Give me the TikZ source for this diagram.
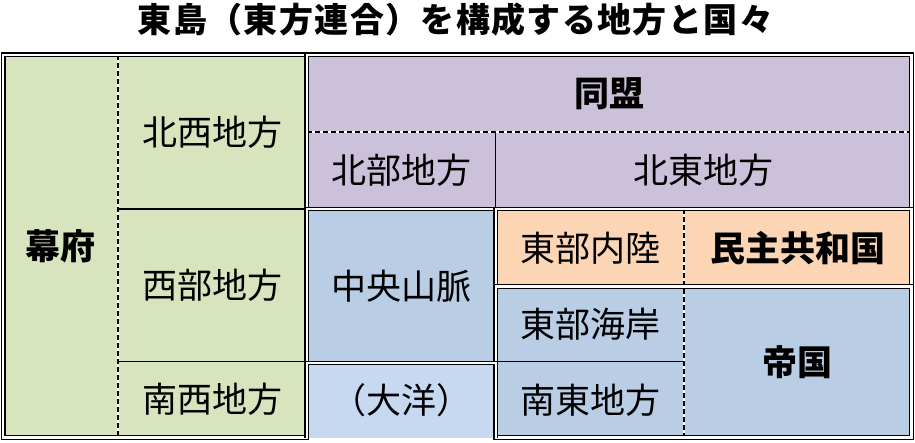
\documentclass[tikz,border=0pt]{standalone}
\usepackage{fontspec}
\newfontfamily\jp{Noto Sans CJK JP}
\definecolor{cgreen}{HTML}{D7E4BD}
\definecolor{cpurple}{HTML}{CCC1DA}
\definecolor{cblue}{HTML}{B9CDE5}
\definecolor{cocean}{HTML}{C6D9F1}
\definecolor{corange}{HTML}{FCD5B5}
\tikzset{
  frame/.style={draw=black, line width=1.3pt, double=white, double distance=2.2pt},
  divider/.style={draw=black, line width=1.3pt},
  dashbg/.style={draw=white, line width=1.3pt},
  dashfg/.style={draw=black, line width=1.3pt, dash pattern=on 5pt off 3pt},
  lbl/.style={anchor=base, inner sep=0pt, font=\jp\fontsize{35}{35}\selectfont},
  blbl/.style={anchor=base, inner sep=0pt, font=\jp\bfseries\fontsize{35}{35}\selectfont},
  ttl/.style={anchor=base, inner sep=0pt, font=\jp\bfseries\fontsize{34}{34}\selectfont\addfontfeatures{LetterSpace=4}},
}
\begin{document}
\begin{tikzpicture}[x=1pt, y=-1pt]
\useasboundingbox (0,0) rectangle (915,442);
% fills
\fill[cgreen] (3.3,54.8) rectangle (306.7,437.5);
\fill[cpurple] (306.7,54.8) rectangle (911.5,209);
\fill[cblue] (306.7,209) rectangle (495.8,363);
\fill[corange] (495.8,209) rectangle (911.5,286.5);
\fill[cblue] (495.8,286.5) rectangle (911.5,437.5);
\fill[cocean] (306.7,363) rectangle (495.8,438);
% interior solid dividers
\draw[divider] (118,209) -- (306.7,209);
\draw[divider] (118,361.8) -- (306.7,361.8);
\draw[divider] (495.8,132) -- (495.8,209);
\draw[divider] (495.8,361.5) -- (684,361.5);
% dashed dividers
\draw[dashbg] (118,54.8) -- (118,437.5);
\draw[dashfg] (118,54.8) -- (118,437.5);
\draw[dashbg] (306.7,132) -- (911.5,132);
\draw[dashfg] (306.7,132) -- (911.5,132);
\draw[dashbg] (684,209) -- (684,437.5);
\draw[dashfg] (684,209) -- (684,437.5);
% double frames
\draw[frame] (3.3,54.8) rectangle (306.7,437.5);
\draw[frame] (306.7,54.8) rectangle (911.5,209);
\draw[frame] (306.7,209) rectangle (495.8,363);
\draw[frame] (495.8,209) rectangle (911.5,286.5);
\draw[frame] (495.8,286.5) rectangle (911.5,437.5);
\draw[frame] (306.7,438) -- (306.7,363) -- (495.8,363) -- (495.8,438);
% texts
\node[ttl] (title) at (455.5,32.8) {東島（東方連合）を構成する地方と国々};
\node[blbl] (bakufu) at (60.6,259.3) {幕府};
\node[lbl] (hokusei) at (212.4,145.3) {北西地方};
\node[lbl] (seibu) at (212.4,298.8) {西部地方};
\node[lbl] (nansei) at (212.4,412.9) {南西地方};
\node[blbl] (doumei) at (609.1,106.7) {同盟};
\node[lbl] (hokubu) at (401.2,183.8) {北部地方};
\node[lbl] (hokutou) at (703.6,183.8) {北東地方};
\node[lbl] (chuou) at (401.2,299.3) {中央山脈};
\node[lbl] (taiyou) at (401.2,413.3) {（大洋）};
\node[lbl] (naiku) at (590,261.3) {東部内陸};
\node[blbl] (minshu) at (797.7,261.3) {民主共和国};
\node[lbl] (kaigan) at (590,337.8) {東部海岸};
\node[lbl] (nantou) at (590,413.3) {南東地方};
\node[blbl] (teikoku) at (797.7,375.3) {帝国};
\end{tikzpicture}
\end{document}
